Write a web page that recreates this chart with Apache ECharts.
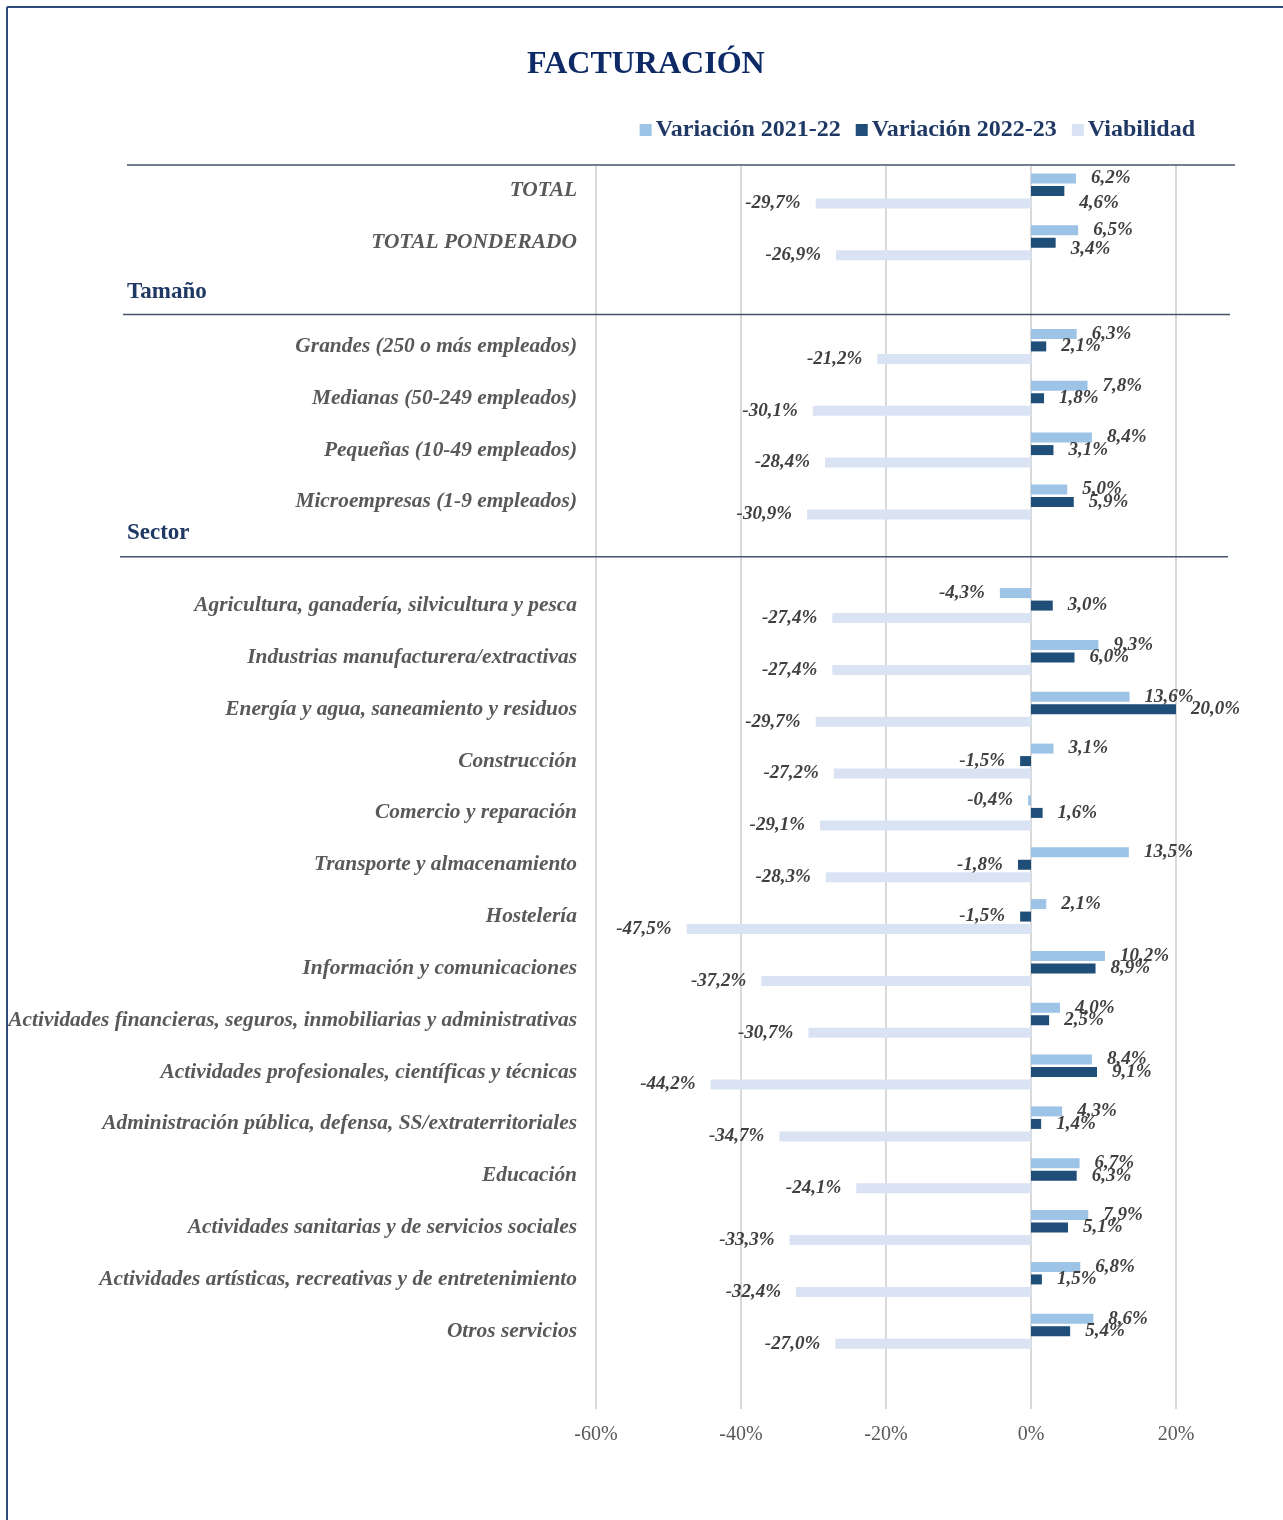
<!DOCTYPE html>
<html>
<head>
<meta charset="utf-8">
<script src="https://cdn.jsdelivr.net/npm/echarts@6/dist/echarts.min.js"></script>
<style>
html,body{margin:0;padding:0;background:#fff;}
#c{width:1283px;height:1520px;}
</style>
</head>
<body>
<div id="c"></div>
<script>
const categories = ['TOTAL','TOTAL PONDERADO','Tamaño','Grandes (250 o más empleados)','Medianas (50-249 empleados)','Pequeñas (10-49 empleados)','Microempresas (1-9 empleados)','Sector','Agricultura, ganadería, silvicultura y pesca','Industrias manufacturera/extractivas','Energía y agua, saneamiento y residuos','Construcción','Comercio y reparación','Transporte y almacenamiento','Hostelería','Información y comunicaciones','Actividades financieras, seguros, inmobiliarias y administrativas','Actividades profesionales, científicas y técnicas','Administración pública, defensa, SS/extraterritoriales','Educación','Actividades sanitarias y de servicios sociales','Actividades artísticas, recreativas y de entretenimiento','Otros servicios',' '];
const headerRows = ['Tamaño','Sector',' '];
const var2122 = [6.2,6.5,null,6.3,7.8,8.4,5.0,null,-4.3,9.3,13.6,3.1,-0.4,13.5,2.1,10.2,4.0,8.4,4.3,6.7,7.9,6.8,8.6,null];
const var2223 = [4.6,3.4,null,2.1,1.8,3.1,5.9,null,3.0,6.0,20.0,-1.5,1.6,-1.8,-1.5,8.9,2.5,9.1,1.4,6.3,5.1,1.5,5.4,null];
const viab = [-29.7,-26.9,null,-21.2,-30.1,-28.4,-30.9,null,-27.4,-27.4,-29.7,-27.2,-29.1,-28.3,-47.5,-37.2,-30.7,-44.2,-34.7,-24.1,-33.3,-32.4,-27.0,null];
const xTicks = {min:-60, max:20, interval:20};
const seriesNames = ['Variación 2021-22','Variación 2022-23','Viabilidad'];
const colors = ['#9dc3e6','#1f4e79','#dae3f3'];
// small manual vertical nudges of a few labels (as in the original)
const labelNudge = {1:{0:12,1:6}};

const FONT = "'Liberation Serif','Times New Roman',serif";
const fmt = v => v.toFixed(1).replace('.', ',') + '%';

function buildData(arr, sIdx){
  return arr.map((v,i)=>{
    if(v===null) return null;
    const item = {value:v, label:{position: v<0 ? 'left':'right'}};
    const n = labelNudge[sIdx] && labelNudge[sIdx][i];
    if(n) item.label.offset=[0,n];
    return item;
  });
}

const chart = echarts.init(document.getElementById('c'), null, {renderer:'canvas'});
const series = [var2122, var2223, viab].map((arr,k)=>({
  name: seriesNames[k],
  type:'bar',
  barWidth:10,
  barGap:'25%',
  itemStyle:{color:colors[k]},
  data: buildData(arr,k),
  label:{
    show:true,
    distance:15,
    formatter: p => fmt(p.value),
    fontFamily:FONT, fontStyle:'italic', fontWeight:'bold', fontSize:19, color:'#404040'
  },
  emphasis:{disabled:true},
  animation:false
}));

chart.setOption({
  animation:false,
  title:{
    text:'FACTURACIÓN', left:522, top:44,
    textStyle:{fontFamily:FONT, fontWeight:'bold', fontSize:32, color:'#0d2a66'}
  },
  legend:{
    right:83, top:113,
    itemWidth:12, itemHeight:12, itemGap:15,
    icon:'rect',
    data:seriesNames,
    textStyle:{fontFamily:FONT, fontWeight:'bold', fontSize:24, color:'#1f3864', padding:[0,0,0,-1]}
  },
  grid:{left:596, right:107, top:165, bottom:111, containLabel:false},
  xAxis:{
    type:'value', min:xTicks.min, max:xTicks.max, interval:xTicks.interval,
    axisLine:{show:false}, axisTick:{show:false},
    splitLine:{show:true, lineStyle:{color:'#d9d9d9', width:2}},
    axisLabel:{formatter: v => v + '%', fontFamily:FONT, fontSize:20, color:'#595959', margin:16}
  },
  yAxis:{
    type:'category', inverse:true, data:categories,
    axisLine:{show:false}, axisTick:{show:false},
    axisLabel:{
      interval:0, margin:19,
      formatter: v => headerRows.includes(v) ? '' : v,
      fontFamily:FONT, fontStyle:'italic', fontWeight:'bold', fontSize:21.4, color:'#595959'
    }
  },
  series: series
});

// header texts and separator lines, positioned from the category axis
const yOf = name => chart.convertToPixel({yAxisIndex:0}, name);
const yT = yOf('Tamaño'), yS = yOf('Sector');
const gridTop = yOf('TOTAL') - (yOf('TOTAL PONDERADO') - yOf('TOTAL'))/2;
const lineStyle = {stroke:'#44546a', lineWidth:1.5};
chart.setOption({
  graphic:[
    {type:'line', shape:{x1:7, y1:7, x2:1283, y2:7}, style:{stroke:'#2f4b7c', lineWidth:2}, silent:true},
    {type:'line', shape:{x1:7, y1:7, x2:7, y2:1520}, style:{stroke:'#2f4b7c', lineWidth:2}, silent:true},
    {type:'line', shape:{x1:127, y1:gridTop, x2:1235, y2:gridTop}, style:lineStyle, silent:true},
    {type:'line', shape:{x1:123, y1:yT+20, x2:1230, y2:yT+20}, style:lineStyle, silent:true},
    {type:'line', shape:{x1:120, y1:yS+3, x2:1228, y2:yS+3}, style:lineStyle, silent:true},
    {type:'text', x:127, y:yT-3, style:{text:'Tamaño', fontFamily:FONT, fontWeight:'bold', fontSize:23, fill:'#1f3864', textVerticalAlign:'middle', verticalAlign:'middle'}, silent:true},
    {type:'text', x:127, y:yS-21, style:{text:'Sector', fontFamily:FONT, fontWeight:'bold', fontSize:23, fill:'#1f3864', textVerticalAlign:'middle', verticalAlign:'middle'}, silent:true}
  ]
});
</script>
</body>
</html>
